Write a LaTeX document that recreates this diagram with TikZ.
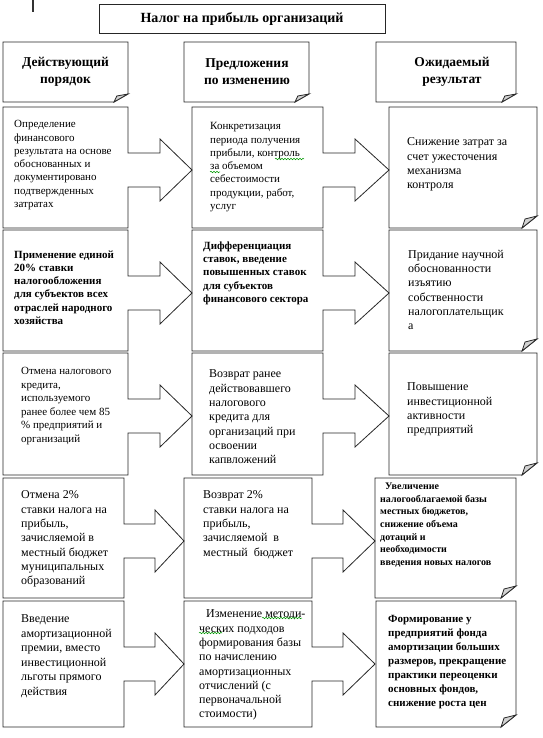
\documentclass[tikz,border=0pt]{standalone}
\usepackage{fontspec}
\setmainfont{Liberation Serif}
\usetikzlibrary{decorations.pathmorphing}
\newcommand{\arrbox}[6]{% x0,x1,xs,xt,top,bottom
  \draw[shapeline] (#1,#5) -- (#2,#5) -- (#2,#5+46) -- (#3,#5+46) -- (#3,#5+32)
    -- (#4,#5+63) -- (#3,#5+94) -- (#3,#5+80) -- (#2,#5+80) -- (#2,#6) -- (#1,#6) -- cycle;}
\newcommand{\foldbox}[6]{% x0,y0,x1,y1,fw,fh
  \draw[shapeline] (#1,#2) -- (#3,#2) -- (#3,#4-#6) -- (#3-#5,#4) -- (#1,#4) -- cycle;
  \draw[shapeline,fill=gray!35] (#3-#5,#4) -- (#3-0.8*#5,#4-0.75*#6) -- (#3,#4-#6) -- cycle;}
\begin{document}
\begin{tikzpicture}[x=1pt,y=-1pt,
  shapeline/.style={draw=black!85,line width=0.8pt,line join=miter},
  tnode/.style={anchor=north west,inner sep=0pt,align=left},
  txt/.style={tnode,font=\fontsize{11}{13.3}\selectfont},
  txtB/.style={tnode,font=\fontsize{11}{13.3}\selectfont\bfseries},
  txtL/.style={tnode,font=\fontsize{12}{14.3}\selectfont},
  txtS/.style={tnode,font=\fontsize{10}{12.7}\selectfont\bfseries},
  txtR/.style={tnode,font=\fontsize{11}{14}\selectfont\bfseries},
  head/.style={anchor=center,inner sep=0pt,align=center,font=\fontsize{13.5}{17}\selectfont\bfseries},
  spell/.style={draw=green!60!black,line width=0.5pt,decorate,decoration={snake,amplitude=0.8pt,segment length=3pt}}
]
\useasboundingbox (0,0) rectangle (542,738);
% cursor mark
\draw[line width=1.6pt,black!80] (33,0) -- (33,12);
% title
\draw[shapeline] (99,4) rectangle (385,33);
\node[anchor=center,inner sep=0pt,font=\fontsize{14}{16}\selectfont\bfseries] (title) at (242,19) {Налог на прибыль организаций};
% headers
\foldbox{3}{42}{128}{102}{14}{8}
\foldbox{184}{42}{309}{102}{14}{8}
\foldbox{376}{42}{516}{102}{14}{8}
\node[head] (h1) at (65.5,72) {Действующий\\порядок};
\node[head] (h2) at (247,72) {Предложения\\по изменению};
\node[head] (h3) at (452,72) {Ожидаемый\\результат};
% rows 1-3 shapes
\arrbox{3}{128}{160}{192}{107}{228}
\arrbox{192}{323}{355}{389}{107}{228}
\foldbox{389}{107}{537}{228}{15}{12}
\arrbox{3}{128}{160}{192}{230}{351}
\arrbox{192}{323}{355}{389}{230}{351}
\foldbox{389}{230}{537}{351}{15}{12}
\arrbox{3}{128}{160}{192}{353}{475}
\arrbox{192}{323}{355}{389}{353}{475}
\foldbox{389}{353}{537}{475}{15}{12}
% rows 4-5 shapes
\arrbox{3}{124}{155}{184}{478}{598}
\arrbox{184}{312}{343}{375}{478}{598}
\foldbox{375}{478}{516}{598}{15}{12}
\arrbox{3}{124}{155}{184}{601}{727}
\arrbox{184}{312}{343}{375}{601}{727}
\foldbox{376}{601}{516}{727}{15}{12}
% row 1 texts
\node[txt] (r1l) at (14,120.3) {Определение\\финансового\\результата на основе\\обоснованных и\\документировано\\подтвержденных\\затратах};
\node[txt] (r1m) at (210,122.3) {Конкретизация\\периода получения\\прибыли, контроль\\за объемом\\себестоимости\\продукции, работ,\\услуг};
\node[txtL] (r1r) at (407,137.8) {Снижение затрат за\\счет ужесточения\\механизма\\контроля};
% row 2 texts
\node[txtB] (r2l) at (14,250.3) {Применение единой\\20\% ставки\\налогообложения\\для субъектов всех\\отраслей народного\\хозяйства};
\node[txtB] (r2m) at (203,241.3) {Дифференциация\\ставок, введение\\повышенных ставок\\для субъектов\\финансового сектора};
\node[txtL] (r2r) at (408,249.8) {Придание научной\\обоснованности\\изъятию\\собственности\\налогоплательщик\\а};
% row 3 texts
\node[tnode,font=\fontsize{11}{13.5}\selectfont] (r3l) at (21,367.3) {Отмена налогового\\кредита,\\используемого\\ранее более чем 85\\\% предприятий и\\организаций};
\node[txtL] (r3m) at (209,369.8) {Возврат ранее\\действовавшего\\налогового\\кредита для\\организаций при\\освоении\\капвложений};
\node[txtL] (r3r) at (407,382.8) {Повышение\\инвестиционной\\активности\\предприятий};
% row 4 texts
\node[txtL] (r4l) at (21,490.8) {Отмена 2\%\\ставки налога на\\прибыль,\\зачисляемой в\\местный бюджет\\муниципальных\\образований};
\node[txtL] (r4m) at (203,490.8) {Возврат 2\%\\ставки налога на\\прибыль,\\зачисляемой~ в\\местный~ бюджет};
\node[txtS] (r4r) at (380,482.7) {\hspace*{5pt}Увеличение\\налогооблагаемой базы\\местных бюджетов,\\снижение объема\\дотаций и\\необходимости\\введения новых налогов};
% row 5 texts
\node[tnode,font=\fontsize{12}{14.5}\selectfont] (r5l) at (21,614.8) {Введение\\амортизационной\\премии, вместо\\инвестиционной\\льготы прямого\\действия};
\node[txtL] (r5m) at (199,609.8) {\hspace*{7pt}Изменение методи-\\ческих подходов\\формирования базы\\по начислению\\амортизационных\\отчислений (с\\первоначальной\\стоимости)};
\node[txtR] (r5r) at (388,615.3) {Формирование у\\предприятий фонда\\амортизации больших\\размеров, прекращение\\практики переоценки\\основных фондов,\\снижение роста цен};
% spell-check squiggles
\draw[spell] (275,159) -- (304,159);
\draw[spell] (210,172) -- (220,172);
\draw[spell] (262,618) -- (302,618);
\draw[spell] (199,633) -- (222,633);
\end{tikzpicture}
\end{document}
